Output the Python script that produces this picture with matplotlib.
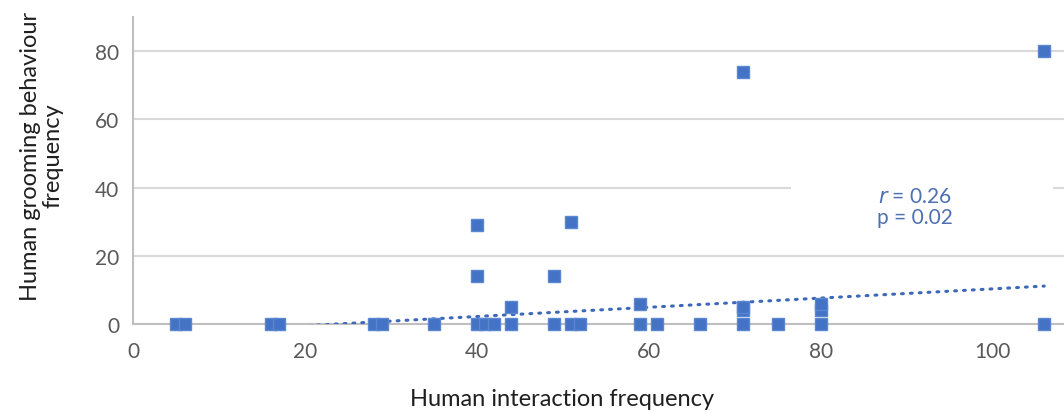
import matplotlib.pyplot as plt
from matplotlib.patches import Rectangle
import numpy as np

# data
interaction = [5, 6, 16, 17, 28, 29, 35, 40, 40, 40, 41, 42, 44, 44, 49, 49,
               51, 51, 52, 59, 59, 61, 66, 71, 71, 71, 71, 75, 80, 80, 80, 106, 106]
grooming = [0, 0, 0, 0, 0, 0, 0, 29, 14, 0, 0, 0, 5, 0, 14, 0,
            30, 0, 0, 6, 0, 0, 0, 74, 4, 5, 0, 0, 4, 6, 0, 80, 0]

# trendline as drawn (Excel linear trendline)
trend_slope = 0.135
trend_intercept = -3.2
stats_text = "$\\it{r}$ = 0.26\np = 0.02"

blue = '#4472C4'
plt.rcParams['font.family'] = ['Lato', 'DejaVu Sans']

fig = plt.figure(figsize=(10.64, 4.14), dpi=100)
ax = fig.add_axes([133 / 1064, 89 / 414, 1 - 133 / 1064, 307 / 414])

ax.set_xlim(0, 108.3)
ax.set_ylim(0, 90)

ax.set_yticks([0, 20, 40, 60, 80])
ax.set_xticks([0, 20, 40, 60, 80, 100])
ax.grid(axis='y', color='#d9d9d9', linewidth=1.5, zorder=0)
ax.set_axisbelow(True)

for s in ['top', 'right']:
    ax.spines[s].set_visible(False)
for s in ['left', 'bottom']:
    ax.spines[s].set_color('#bfbfbf')
    ax.spines[s].set_linewidth(1.5)

ax.tick_params(length=0, labelsize=15, colors='#595959', pad=10)
ax.tick_params(axis='x', pad=12)

# white box behind the annotation
ax.add_patch(Rectangle((76.5, 25), 30.5, 21, facecolor='white',
                       edgecolor='none', zorder=1))

tx = np.array([min(interaction), max(interaction)])
ax.plot(tx, trend_slope * tx + trend_intercept, color='#3d67b8', linewidth=2.2,
        linestyle=(0, (0.6, 2.3)), dash_capstyle='round', zorder=3, clip_on=True)

ax.plot(interaction, grooming, linestyle='none', marker='s', markersize=8,
        markerfacecolor=blue, markeredgecolor='#5b86d0', markeredgewidth=1,
        zorder=4, clip_on=False)

ax.text(91, 34.5, stats_text, ha='center', va='center', fontsize=15,
        color='#4f6fb3', linespacing=1.1, zorder=5)

ax.set_xlabel('Human interaction frequency', fontsize=17, color='#1f1f1f')
ax.xaxis.set_label_coords((562 - 133) / 931, -0.21)
ax.set_ylabel('Human grooming behaviour\nfrequency', fontsize=17, color='#1f1f1f',
              linespacing=1.05)
ax.yaxis.set_label_coords(-0.075, 0.55)

fig.savefig('out.png', dpi=100)
